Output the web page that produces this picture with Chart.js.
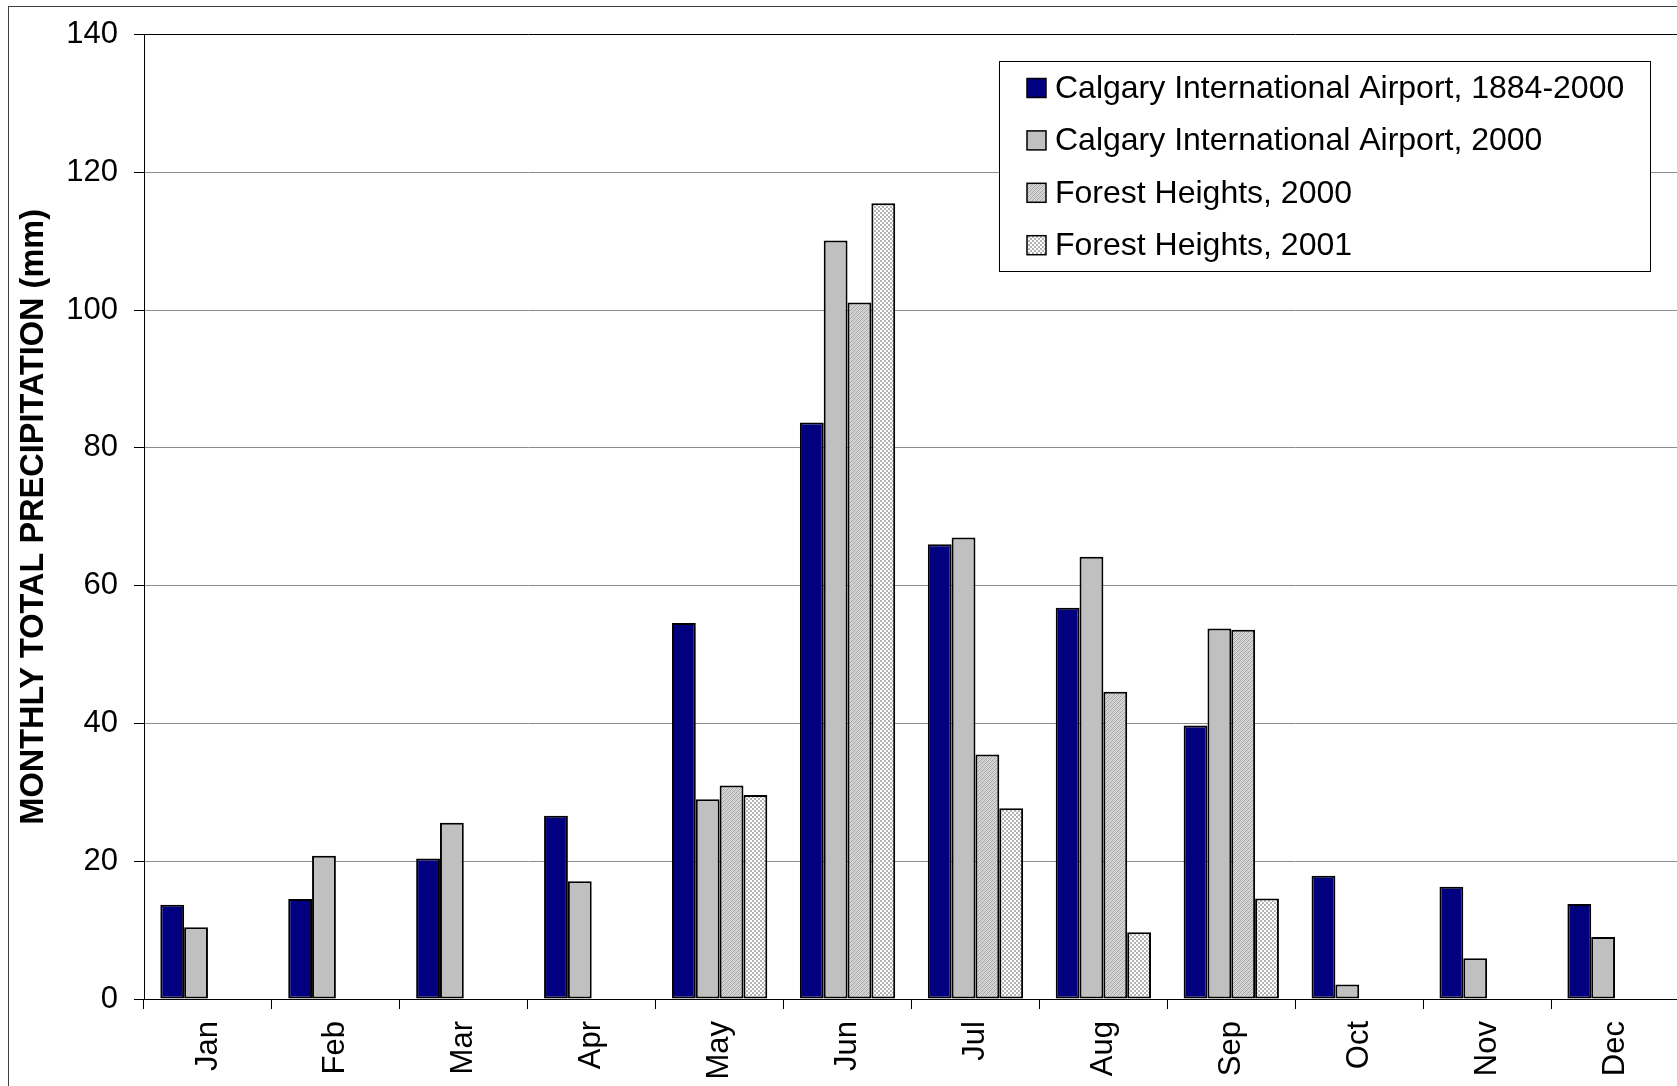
<!DOCTYPE html>
<html>
<head>
<meta charset="utf-8">
<title>Monthly total precipitation</title>
<script src="https://cdn.jsdelivr.net/npm/chart.js@4.4.1/dist/chart.umd.min.js"></script>
<style>
  html, body { margin: 0; padding: 0; background: #fff; overflow: hidden; }
  #wrap { position: absolute; left: 0; top: 0; width: 1700px; height: 1086px; }
</style>
</head>
<body>
<div id="wrap"><canvas id="precip"></canvas></div>
<script>
// monthly totals, mm
const months = ['Jan', 'Feb', 'Mar', 'Apr', 'May', 'Jun', 'Jul', 'Aug', 'Sep', 'Oct', 'Nov', 'Dec'];
const yTicks = [0, 20, 40, 60, 80, 100, 120, 140];
const airportNormal = [13.7, 14.5, 20.4, 26.6, 54.6, 83.7, 66.0, 56.8, 39.7, 17.9, 16.3, 13.8];
const airport2000 = [10.4, 20.8, 25.6, 17.1, 29.0, 110.1, 67.0, 64.2, 53.8, 2.1, 5.9, 9.0];
const forest2000 = [null, null, null, null, 31.0, 101.1, 35.5, 44.6, 53.6, null, null, null];
const forest2001 = [null, null, null, null, 29.6, 115.5, 27.7, 9.7, 14.6, null, null, null];

const FONT = '"Liberation Sans", Arial, sans-serif';

// small tiled fills for the Forest Heights bars
function makePattern(draw) {
    const c = document.createElement('canvas');
    c.width = 4; c.height = 4;
    const g = c.getContext('2d');
    for (let y = 0; y < 4; y++) {
        for (let x = 0; x < 4; x++) {
            g.fillStyle = draw(x, y);
            g.fillRect(x, y, 1, 1);
        }
    }
    return g.createPattern(c, 'repeat');
}
const hatchFill = makePattern((x, y) => {
    const d = (x + y) % 4;
    if (d === 0) return '#a4a4a4';
    if (d === 2) return '#c4c4c4';
    return '#dadada';
});
const checkFill = makePattern((x, y) => ((Math.floor(x / 2) + Math.floor(y / 2)) % 2 === 0 ? '#b4b4b4' : '#ffffff'));

// frame round the whole chart + boxed legend in the top right
const framePlugin = {
    id: 'frameAndLegend',
    afterDraw(chart) {
        const ctx = chart.ctx;
        ctx.save();
        ctx.strokeStyle = '#404040';
        ctx.lineWidth = 1;
        ctx.strokeRect(8.5, 6.5, 2000, 2000);

        const box = { x: 999.5, y: 61.5, w: 651, h: 210 };
        ctx.fillStyle = '#fff';
        ctx.fillRect(box.x, box.y, box.w, box.h);
        ctx.strokeStyle = '#000';
        ctx.strokeRect(box.x, box.y, box.w, box.h);

        ctx.font = '32px ' + FONT;
        ctx.textBaseline = 'middle';
        ctx.textAlign = 'left';
        chart.data.datasets.forEach((ds, i) => {
            const cy = 88 + i * 52.4;
            ctx.fillStyle = ds.backgroundColor;
            ctx.fillRect(1027, cy - 9.5, 19, 19);
            ctx.lineWidth = 1.5;
            ctx.strokeStyle = '#000';
            ctx.strokeRect(1027, cy - 9.5, 19, 19);
            ctx.fillStyle = '#000';
            ctx.fillText(ds.label, 1055, cy + 1);
        });
        ctx.restore();
    }
};

const barStyle = { borderColor: '#000', borderWidth: 2, borderSkipped: false, categoryPercentage: 0.745, barPercentage: 1.0 };

new Chart(document.getElementById('precip'), {
    type: 'bar',
    data: {
        labels: months,
        datasets: [
            { label: 'Calgary International Airport, 1884-2000', data: airportNormal, backgroundColor: '#000080', ...barStyle },
            { label: 'Calgary International Airport, 2000', data: airport2000, backgroundColor: '#c0c0c0', ...barStyle },
            { label: 'Forest Heights, 2000', data: forest2000, backgroundColor: hatchFill, ...barStyle },
            { label: 'Forest Heights, 2001', data: forest2001, backgroundColor: checkFill, ...barStyle }
        ]
    },
    options: {
        responsive: true,
        maintainAspectRatio: false,
        animation: false,
        layout: { padding: { top: 33, right: 21, bottom: 0, left: 0 } },
        plugins: { legend: { display: false }, tooltip: { enabled: false } },
        scales: {
            x: {
                grid: { offset: true, drawOnChartArea: false, drawTicks: true, tickLength: 10, tickColor: '#000' },
                border: { color: '#000', width: 1 },
                ticks: { color: '#000', font: { family: FONT, size: 31 }, minRotation: 90, maxRotation: 90, autoSkip: false, padding: 12 },
                afterFit(scale) { scale.height = 87; }
            },
            y: {
                min: 0,
                max: 140,
                afterBuildTicks(scale) { scale.ticks = yTicks.map(v => ({ value: v })); },
                grid: {
                    color: ctx => (ctx.tick && ctx.tick.value === 140 ? '#000' : '#8c8c8c'),
                    lineWidth: 1,
                    tickLength: 10,
                    tickColor: '#000'
                },
                border: { color: '#000', width: 1 },
                ticks: { color: '#000', font: { family: FONT, size: 31 }, padding: 16 },
                title: {
                    display: true,
                    text: 'MONTHLY TOTAL PRECIPITATION (mm)',
                    color: '#000',
                    font: { family: FONT, size: 32.5, weight: 'bold' },
                    padding: { top: 15, bottom: 0 }
                },
                afterFit(scale) { scale.width = 144; }
            }
        }
    },
    plugins: [framePlugin]
});
</script>
</body>
</html>
